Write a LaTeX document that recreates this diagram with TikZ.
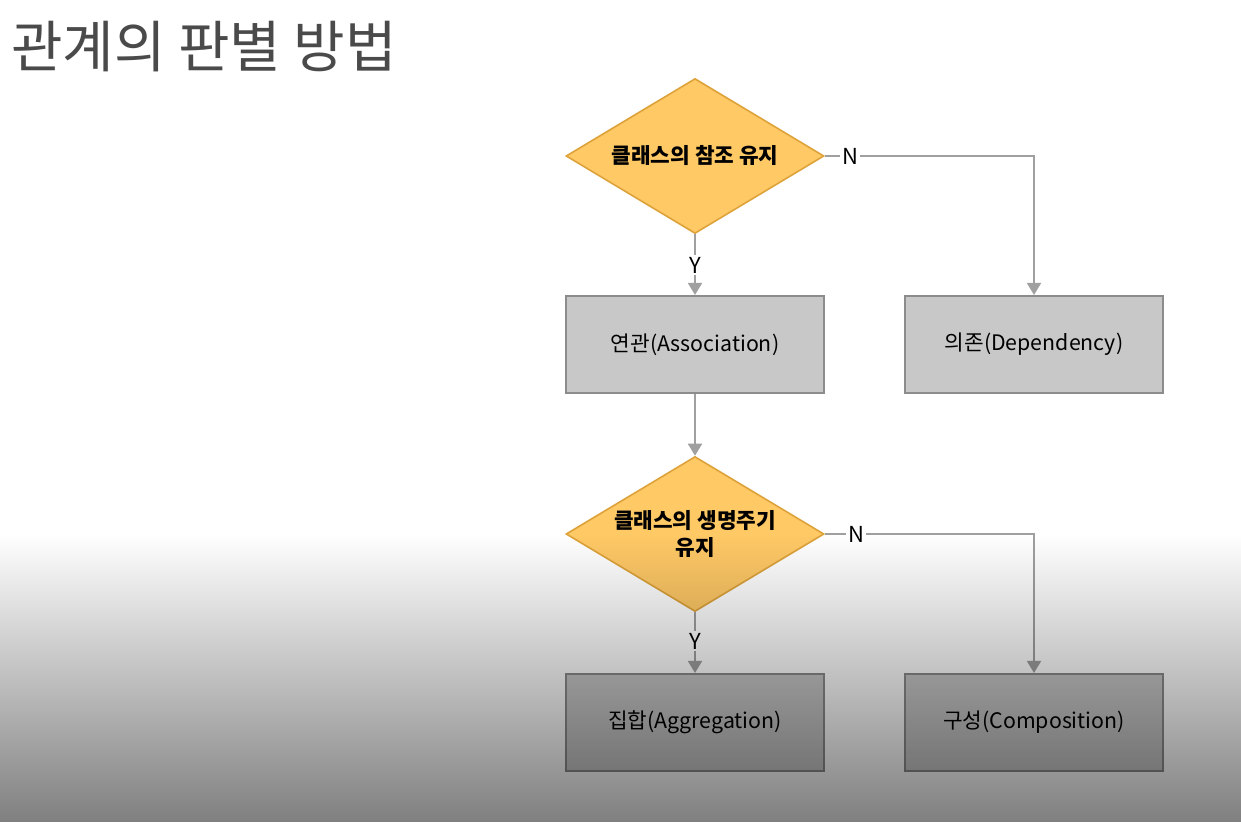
\documentclass[tikz,border=0pt]{standalone}
\usepackage{fontspec}
\setmainfont{Noto Sans CJK KR}
\usetikzlibrary{shapes.geometric,arrows.meta,fadings}
\definecolor{titlegray}{HTML}{4A4A4A}
\definecolor{dfill}{HTML}{FFC966}
\definecolor{dline}{HTML}{DDA23A}
\definecolor{bfill}{HTML}{C8C8C8}
\definecolor{bline}{HTML}{8C8C8C}
\definecolor{cline}{HTML}{A0A0A0}
\tikzset{
  decision/.style={diamond, draw=dline, fill=dfill, line width=1.2pt, inner sep=-6pt,
    shape aspect=1.665,
    minimum width=193.5pt, minimum height=116.25pt, align=center,
    font=\fontsize{16}{20}\selectfont\bfseries},
  outcome/.style={rectangle, draw=bline, fill=bfill, line width=1.6pt,
    minimum width=193.5pt, minimum height=72.75pt,
    font=\fontsize{16}{19}\selectfont},
  yn/.style={inner sep=1.5pt, font=\fontsize{16.5}{19}\selectfont},
  conn/.style={draw=cline, line width=1.4pt},
  arr/.style={-{Triangle[length=9pt,width=10.5pt]}, cline}
}
\begin{document}
\begin{tikzpicture}[x=0.75pt,y=-0.75pt]
\useasboundingbox (0,0) rectangle (1241,822);
\fill[white] (0,0) rectangle (1241,822);
\node[anchor=base west, inner sep=0pt, text=titlegray, font=\fontsize{42}{50}\selectfont] (title) at (11,67) {관계의 판별 방법};

\node[decision] (d1) at (695,156) {클래스의 참조 유지};
\node[outcome] (assoc) at (695,344.5) {연관(Association)};
\node[outcome] (dep) at (1034,344.5) {의존(Dependency)};
\node[decision] (d2) at (695,534) {클래스의 생명주기\\유지};
\node[outcome] (aggr) at (695,722.5) {집합(Aggregation)};
\node[outcome] (comp) at (1034,722.5) {구성(Composition)};

\node[yn] (y1) at (695,265) {Y};
\node[yn] (n1) at (850,156) {N};
\node[yn] (y2) at (695,641) {Y};
\node[yn] (n2) at (856,534) {N};

\draw[conn] (d1.south) -- (y1.north);
\draw[conn,arr] (y1.south) -- (assoc.north);
\draw[conn] (d1.east) -- (n1.west);
\draw[conn,arr] (n1.east) -| (dep.north);
\draw[conn,arr] (assoc.south) -- (d2.north);
\draw[conn] (d2.south) -- (y2.north);
\draw[conn,arr] (y2.south) -- (aggr.north);
\draw[conn] (d2.east) -- (n2.west);
\draw[conn,arr] (n2.east) -| (comp.north);

\fill[black, fill opacity=0.5, path fading=north] (0,535) rectangle (1241,822);
\end{tikzpicture}
\end{document}
